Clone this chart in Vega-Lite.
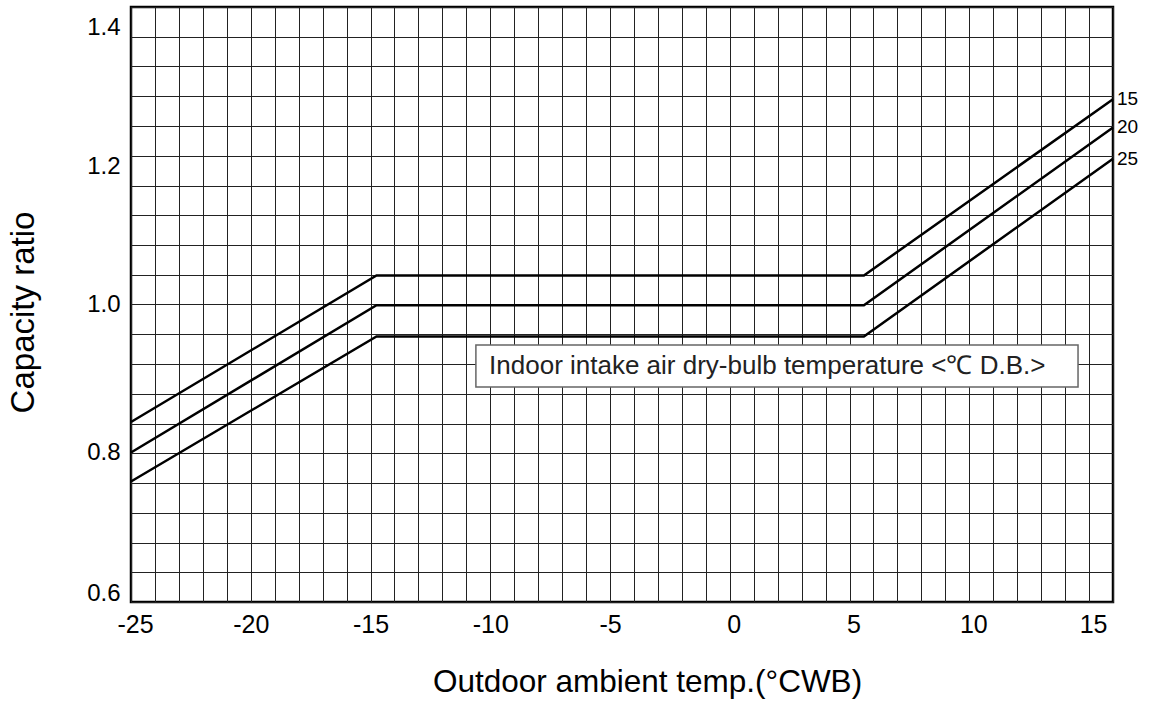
{
  "$schema": "https://vega.github.io/schema/vega-lite/v6.json",
  "width": 982,
  "height": 595,
  "autosize": {"type": "none"},
  "padding": {"left": 131, "top": 7, "right": 39, "bottom": 99},
  "background": "#ffffff",
  "config": {
    "font": "Liberation Sans",
    "view": {"stroke": "#000000", "strokeWidth": 2.5},
    "axis": {
      "domain": false,
      "ticks": false,
      "grid": true,
      "gridColor": "#222222",
      "gridWidth": 1,
      "gridOpacity": 1,
      "labelColor": "#000000",
      "labelFont": "Liberation Sans",
      "titleFont": "Liberation Sans",
      "titleColor": "#000000",
      "titleFontWeight": "normal",
      "labelFlush": false,
      "labelOverlap": false,
      "labelBound": false
    }
  },
  "datasets": {
    "curves": [
      {"series": "15", "x": -25, "y": 0.842},
      {"series": "15", "x": -14.75, "y": 1.039},
      {"series": "15", "x": 5.6, "y": 1.039},
      {"series": "15", "x": 16, "y": 1.276},
      {"series": "20", "x": -25, "y": 0.801},
      {"series": "20", "x": -14.75, "y": 0.999},
      {"series": "20", "x": 5.6, "y": 0.999},
      {"series": "20", "x": 16, "y": 1.238},
      {"series": "25", "x": -25, "y": 0.762},
      {"series": "25", "x": -14.75, "y": 0.957},
      {"series": "25", "x": 5.6, "y": 0.957},
      {"series": "25", "x": 16, "y": 1.196}
    ],
    "note": [
      {"x1": -10.6, "x2": 14.54, "y1": 0.889, "y2": 0.9455, "tx": -10.05, "ty": 0.917, "text": "Indoor intake air dry-bulb temperature <℃ D.B.>"}
    ]
  },
  "layer": [
    {
      "data": {"name": "note"},
      "mark": {"type": "rect", "fill": "#ffffff", "stroke": "#666666", "strokeWidth": 1.5},
      "encoding": {
        "x": {
          "field": "x1", "type": "quantitative",
          "title": "Outdoor ambient temp.(°CWB)",
          "scale": {"domain": [-25, 16], "nice": false, "zero": false},
          "axis": {
            "values": [-25,-24,-23,-22,-21,-20,-19,-18,-17,-16,-15,-14,-13,-12,-11,-10,-9,-8,-7,-6,-5,-4,-3,-2,-1,0,1,2,3,4,5,6,7,8,9,10,11,12,13,14,15,16],
            "tickCount": 200,
            "labelExpr": "datum.value % 5 == 0 ? '' + datum.value : ''",
            "labelFontSize": 25,
            "labelPadding": 10,
            "labelOffset": {"condition": {"test": "datum.value >= 0 || datum.value < -22", "value": 4}, "value": 0},
            "titleFontSize": 31.5,
            "titleX": 516,
            "titleY": 89,
            "titleBaseline": "alphabetic",
            "titleAlign": "center"
          }
        },
        "x2": {"field": "x2"},
        "y": {
          "field": "y1", "type": "quantitative",
          "title": "Capacity ratio",
          "scale": {"domain": [0.6, 1.4], "nice": false, "zero": false},
          "axis": {
            "values": [0.6,0.64,0.68,0.72,0.76,0.8,0.84,0.88,0.92,0.96,1.0,1.04,1.08,1.12,1.16,1.2,1.24,1.28,1.32,1.36,1.4],
            "tickCount": 200,
            "labelExpr": "abs(datum.value*5 - round(datum.value*5)) < 0.001 ? format(datum.value, '.1f') : ''",
            "labelFontSize": 24,
            "labelPadding": 11,
            "labelOffset": {
              "condition": [
                {"test": "datum.value > 1.3", "value": 20},
                {"test": "datum.value > 1.1", "value": 11},
                {"test": "datum.value < 0.7", "value": -9},
                {"test": "datum.value < 0.9", "value": -1}
              ],
              "value": 0
            },
            "titleFontSize": 33,
            "titleAngle": -90,
            "titleX": -98,
            "titleY": 305,
            "titleBaseline": "alphabetic",
            "titleAlign": "center"
          }
        },
        "y2": {"field": "y2"}
      }
    },
    {
      "data": {"name": "note"},
      "mark": {"type": "text", "align": "left", "baseline": "middle", "fontSize": 26, "color": "#222222", "font": "Liberation Sans"},
      "encoding": {
        "x": {"field": "tx", "type": "quantitative", "title": "Outdoor ambient temp.(°CWB)"},
        "y": {"field": "ty", "type": "quantitative", "title": "Capacity ratio"},
        "text": {"field": "text"}
      }
    },
    {
      "data": {"name": "curves"},
      "mark": {"type": "line", "color": "#000000", "strokeWidth": 2.5},
      "encoding": {
        "x": {"field": "x", "type": "quantitative", "title": "Outdoor ambient temp.(°CWB)"},
        "y": {"field": "y", "type": "quantitative", "title": "Capacity ratio"},
        "detail": {"field": "series", "type": "nominal"},
        "order": {"field": "x", "type": "quantitative"}
      }
    },
    {
      "data": {"name": "curves"},
      "transform": [{"filter": "datum.x == 16"}],
      "mark": {"type": "text", "align": "left", "baseline": "middle", "dx": 4, "fontSize": 19, "color": "#000000", "font": "Liberation Sans"},
      "encoding": {
        "x": {"field": "x", "type": "quantitative", "title": "Outdoor ambient temp.(°CWB)"},
        "y": {"field": "y", "type": "quantitative", "title": "Capacity ratio"},
        "text": {"field": "series"}
      }
    }
  ]
}
